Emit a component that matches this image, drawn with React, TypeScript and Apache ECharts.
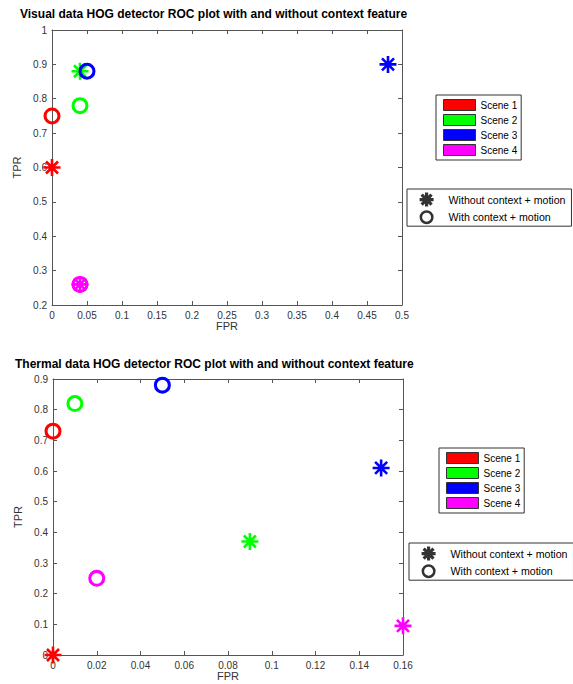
import React, { useEffect, useRef } from 'react';
import * as echarts from 'echarts';

const scenes = ['Scene 1', 'Scene 2', 'Scene 3', 'Scene 4'];
const sceneColors = ['#ff0000', '#00ff00', '#0000ff', '#ff00ff'];
const markerNames = ['Without context + motion', 'With context + motion'];

// Visual data (top plot)
const visualFprWithout = [0, 0.04, 0.48, 0.04];
const visualTprWithout = [0.6, 0.88, 0.9, 0.26];
const visualFprWith = [0, 0.04, 0.05, 0.04];
const visualTprWith = [0.75, 0.78, 0.88, 0.26];

// Thermal data (bottom plot)
const thermalFprWithout = [0, 0.09, 0.15, 0.16];
const thermalTprWithout = [0, 0.37, 0.61, 0.095];
const thermalFprWith = [0, 0.01, 0.05, 0.02];
const thermalTprWith = [0.73, 0.82, 0.88, 0.25];

const titles = [
  'Visual data HOG detector ROC plot with and without context feature',
  'Thermal data HOG detector ROC plot with and without context feature',
];

const STAR = 'path://M0,-10L0,10M-10,0L10,0M-7.07,-7.07L7.07,7.07M-7.07,7.07L7.07,-7.07';
const RING =
  'path://M0,-10A10,10 0 1,1 0,10A10,10 0 1,1 0,-10ZM0,-6.4A6.4,6.4 0 1,0 0,6.4A6.4,6.4 0 1,0 0,-6.4Z';

const FONT = 'Liberation Sans, Arial, sans-serif';
const AX_COLOR = '#555';

function axisBase(extra: any) {
  return {
    type: 'value',
    splitLine: { show: false },
    axisLine: { show: true, onZero: false, lineStyle: { color: AX_COLOR, width: 1 } },
    axisTick: { show: true, inside: true, length: 4, lineStyle: { color: AX_COLOR } },
    axisLabel: { color: '#333', fontSize: 10, fontFamily: FONT, margin: 5 },
    nameLocation: 'middle',
    nameTextStyle: { color: '#333', fontSize: 11, fontFamily: FONT },
    ...extra,
  };
}

function mirror(extra: any) {
  return axisBase({ axisLabel: { show: false }, ...extra });
}

function makeSeries(grid: number, fpr: number[], tpr: number[], symbol: string, isStar: boolean) {
  return scenes.map((s, i) => ({
    type: 'scatter',
    name: s,
    xAxisIndex: grid * 2,
    yAxisIndex: grid * 2,
    clip: false,
    symbol,
    symbolSize: 17,
    itemStyle: isStar
      ? { color: sceneColors[i], borderColor: sceneColors[i], borderWidth: 2.6, opacity: 1 }
      : { color: sceneColors[i], borderWidth: 0, opacity: 1 },
    data: [[fpr[i], tpr[i]]],
  }));
}

function sceneLegend(left: number, top: number) {
  return {
    orient: 'vertical',
    left,
    top,
    selectedMode: false,
    padding: [4, 4, 4, 7],
    itemWidth: 32,
    itemHeight: 11,
    itemGap: 3,
    borderColor: '#333',
    borderWidth: 1,
    backgroundColor: '#fff',
    textStyle: { fontSize: 10, color: '#000', fontFamily: FONT },
    data: scenes.map((s, i) => ({
      name: s,
      icon: 'rect',
      itemStyle: { color: sceneColors[i], borderColor: '#333', borderWidth: 1 },
    })),
  };
}

function markerLegend(left: number, top: number) {
  return {
    orient: 'vertical',
    left,
    top,
    selectedMode: false,
    padding: [2, 6, 2, 11],
    itemWidth: 34,
    itemHeight: 14,
    itemGap: 2,
    borderColor: '#333',
    borderWidth: 1,
    backgroundColor: '#fff',
    textStyle: { fontSize: 10.6, color: '#000', fontFamily: FONT },
    data: [
      { name: markerNames[0], icon: STAR, itemStyle: { color: '#000', borderColor: '#000', borderWidth: 3.2 } },
      { name: markerNames[1], icon: RING, itemStyle: { color: '#000', borderWidth: 0 } },
    ],
  };
}

export default function App() {
  const ref = useRef<HTMLDivElement>(null);
  useEffect(() => {
    if (!ref.current) return;
    const chart = echarts.init(ref.current, null, { renderer: 'svg' });
    const titleStyle = { fontSize: 12, fontWeight: 'bold', color: '#000', fontFamily: FONT };
    const option: any = {
      animation: false,
      backgroundColor: '#fff',
      title: [
        { text: titles[0], left: 20, top: 8, padding: 0, textStyle: titleStyle },
        { text: titles[1], left: 15, top: 358, padding: 0, textStyle: titleStyle },
      ],
      grid: [
        { left: 52, top: 30, width: 350, height: 275 },
        { left: 53, top: 379, width: 350, height: 276 },
      ],
      xAxis: [
        axisBase({ gridIndex: 0, min: 0, max: 0.5, interval: 0.05, position: 'bottom', name: 'FPR', nameGap: 15 }),
        mirror({ gridIndex: 0, min: 0, max: 0.5, interval: 0.05, position: 'top' }),
        axisBase({ gridIndex: 1, min: 0, max: 0.16, interval: 0.02, position: 'bottom', name: 'FPR', nameGap: 15 }),
        mirror({ gridIndex: 1, min: 0, max: 0.16, interval: 0.02, position: 'top' }),
      ],
      yAxis: [
        axisBase({ gridIndex: 0, min: 0.2, max: 1, interval: 0.1, position: 'left', name: 'TPR', nameGap: 21 }),
        mirror({ gridIndex: 0, min: 0.2, max: 1, interval: 0.1, position: 'right' }),
        axisBase({ gridIndex: 1, min: 0, max: 0.9, interval: 0.1, position: 'left', name: 'TPR', nameGap: 21 }),
        mirror({ gridIndex: 1, min: 0, max: 0.9, interval: 0.1, position: 'right' }),
      ],
      legend: [sceneLegend(436, 95), markerLegend(407, 189), sceneLegend(439, 448), markerLegend(409, 543)],
      series: [
        ...makeSeries(0, visualFprWithout, visualTprWithout, STAR, true),
        ...makeSeries(0, visualFprWith, visualTprWith, RING, false),
        ...makeSeries(1, thermalFprWithout, thermalTprWithout, STAR, true),
        ...makeSeries(1, thermalFprWith, thermalTprWith, RING, false),
        {
          type: 'scatter',
          name: markerNames[0],
          symbol: STAR,
          itemStyle: { color: '#000', borderColor: '#000', borderWidth: 3 },
          data: [],
        },
        {
          type: 'scatter',
          name: markerNames[1],
          symbol: RING,
          itemStyle: { color: '#000' },
          data: [],
        },
      ],
    };
    chart.setOption(option);
    return () => chart.dispose();
  }, []);
  return (
    <div
      ref={ref}
      style={{ position: 'fixed', left: 0, top: 0, width: 573, height: 684, background: '#fff' }}
    />
  );
}
